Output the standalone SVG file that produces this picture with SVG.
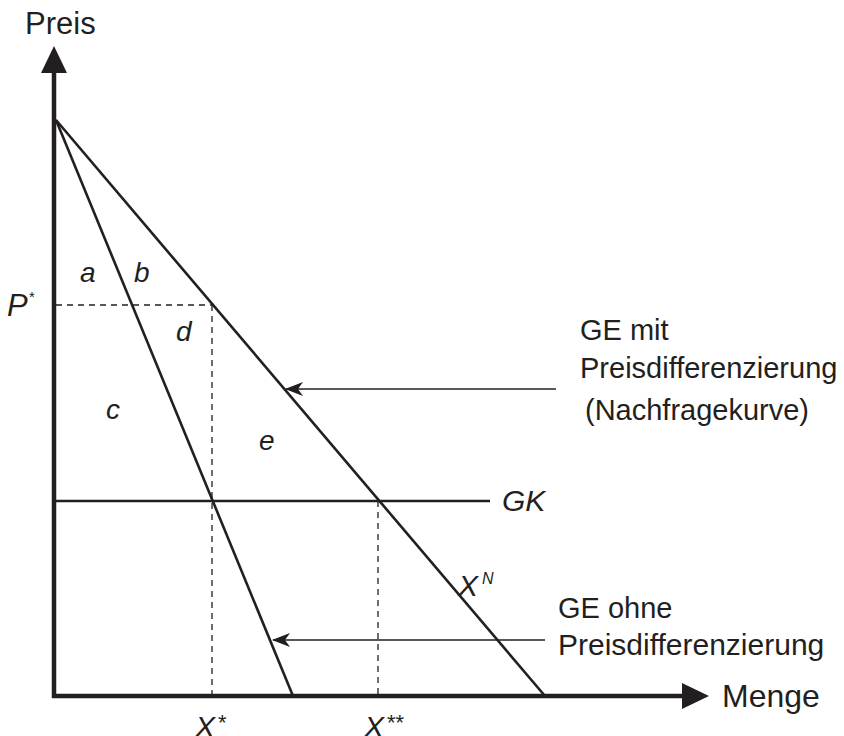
<svg xmlns="http://www.w3.org/2000/svg" width="844" height="736" viewBox="0 0 844 736">
<style>
text{font-family:"Liberation Sans",Arial,sans-serif;fill:#231f20}
.lbl{font-size:29px}
.ax{font-size:31px}
.it{font-style:italic}
.sm{font-size:28px}
.big{font-size:30px}
.curve{stroke:#231f20;stroke-width:2.6;fill:none}
.dash{stroke:#231f20;stroke-width:1.3;stroke-dasharray:6,5;fill:none}
.ptr{stroke:#231f20;stroke-width:1.4;fill:none}
.axis{stroke:#231f20;stroke-width:4.5;fill:none}
</style>
<defs>
<marker id="ah" viewBox="0 0 18 14" refX="17" refY="7" markerWidth="18" markerHeight="14" markerUnits="userSpaceOnUse" orient="auto">
<path d="M18,7 L0,0 L5,7 L0,14 Z" fill="#231f20"/>
</marker>
</defs>
<rect width="844" height="736" fill="#fff"/>
<g id="axes">
<line class="axis" x1="54" y1="698" x2="54" y2="70"/>
<polygon points="54,46 41,73 67,73" fill="#231f20"/>
<line class="axis" x1="52" y1="696" x2="684" y2="696"/>
<polygon points="709,696 682,683 682,709" fill="#231f20"/>
<text class="ax" x="25" y="34">Preis</text>
<text class="ax" x="722" y="707" style="font-size:32px">Menge</text>
</g>
<g id="connectors">
<line class="curve" x1="56" y1="120" x2="545" y2="696"/>
<line class="curve" x1="56" y1="120" x2="293" y2="696"/>
<line class="curve" x1="54" y1="501" x2="490" y2="501"/>
<line class="dash" x1="56" y1="305" x2="212" y2="305"/>
<line class="dash" x1="212" y1="305" x2="212" y2="694"/>
<line class="dash" x1="378" y1="501" x2="378" y2="694"/>
<line class="ptr" x1="556" y1="389" x2="286" y2="389" marker-end="url(#ah)"/>
<line class="ptr" x1="545" y1="640" x2="273" y2="640" marker-end="url(#ah)"/>
</g>
<g id="labels">
<text class="it sm" x="80" y="282">a</text>
<text class="it sm" x="134" y="282">b</text>
<text class="it sm" x="176" y="341">d</text>
<text class="it sm" x="106" y="419">c</text>
<text class="it sm" x="259" y="450">e</text>
<text class="it" x="7" y="316" style="font-size:31px">P</text>
<text x="29" y="302" style="font-size:15px">*</text>
<text class="it big" x="502" y="511">GK</text>
<text class="it big" x="458" y="596">X</text>
<text class="it" x="482" y="584" style="font-size:16px">N</text>
<text class="it big" x="195" y="737">X</text>
<text x="218" y="730" style="font-size:22px">*</text>
<text class="it big" x="364" y="737">X</text>
<text x="387" y="730" style="font-size:22px">**</text>
</g>
<g id="note1">
<text class="lbl" x="580" y="340">GE mit</text>
<text class="lbl" x="580" y="378">Preisdifferenzierung</text>
<text class="lbl" x="585" y="420">(Nachfragekurve)</text>
</g>
<g id="note2">
<text class="lbl" x="558" y="618">GE ohne</text>
<text class="lbl" x="558" y="655" style="font-size:30px">Preisdifferenzierung</text>
</g>
</svg>
